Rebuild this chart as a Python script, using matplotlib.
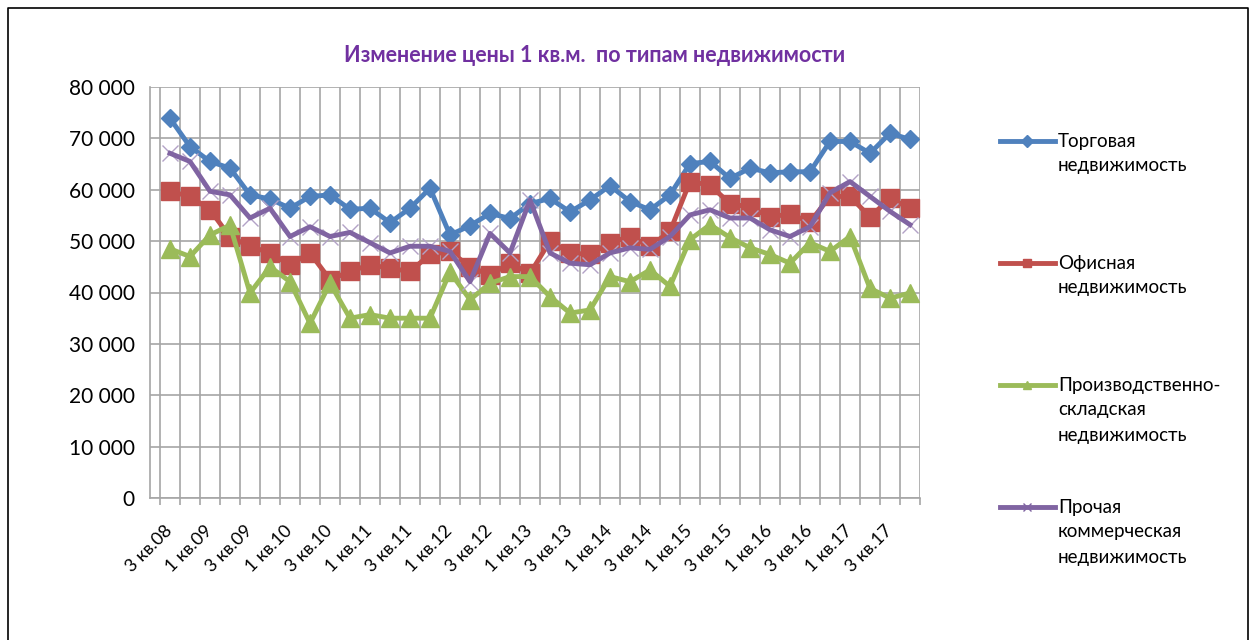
import matplotlib
matplotlib.use("Agg")
import matplotlib.pyplot as plt
from matplotlib.lines import Line2D
from matplotlib.ticker import FuncFormatter, MultipleLocator, FixedLocator

plt.rcParams['font.family'] = ['Lato', 'Open Sans', 'DejaVu Sans']

# кварталы
quarters = ['3 кв.08', '4 кв.08', '1 кв.09', '2 кв.09', '3 кв.09', '4 кв.09',
            '1 кв.10', '2 кв.10', '3 кв.10', '4 кв.10', '1 кв.11', '2 кв.11',
            '3 кв.11', '4 кв.11', '1 кв.12', '2 кв.12', '3 кв.12', '4 кв.12',
            '1 кв.13', '2 кв.13', '3 кв.13', '4 кв.13', '1 кв.14', '2 кв.14',
            '3 кв.14', '4 кв.14', '1 кв.15', '2 кв.15', '3 кв.15', '4 кв.15',
            '1 кв.16', '2 кв.16', '3 кв.16', '4 кв.16', '1 кв.17', '2 кв.17',
            '3 кв.17', '4 кв.17']

torg = [73900, 68400, 65500, 64200, 59000, 58200, 56400, 58700, 59000, 56200,
        56400, 53600, 56400, 60300, 51200, 53000, 55400, 54400, 57300, 58300,
        55700, 58000, 60800, 57700, 56100, 59000, 65100, 65500, 62200, 64200,
        63300, 63500, 63500, 69400, 69400, 67100, 71000, 69800]
ofis = [59700, 58700, 56100, 50800, 49000, 47700, 45400, 47700, 42500, 44100,
        45400, 44700, 44100, 47400, 48000, 45000, 43400, 45700, 43700, 50000,
        47700, 47400, 49700, 50900, 49000, 51900, 61600, 60900, 57300, 56600,
        54700, 55300, 53700, 58700, 58700, 54700, 58300, 56400]
prom = [48500, 47000, 51200, 53100, 39900, 45000, 42100, 34000, 41800, 35000,
        35700, 35000, 35000, 35000, 44000, 38600, 41800, 43100, 43100, 39200,
        36000, 36600, 43100, 42100, 44400, 41200, 50300, 53200, 50700, 48700,
        47400, 45700, 49700, 48000, 50900, 40800, 38900, 39900]
proch = [67100, 65500, 59700, 59000, 54500, 56400, 50900, 52800, 50900, 51700,
         49700, 47700, 49000, 49000, 48000, 42100, 51500, 47700, 58000, 47700,
         45700, 45400, 47700, 48700, 48400, 50900, 55100, 56100, 54500, 54500,
         52200, 50900, 52800, 59400, 61600, 58700, 55800, 53200]

labels = ['Торговая\nнедвижимость', 'Офисная\nнедвижимость',
          'Производственно-\nскладская\nнедвижимость',
          'Прочая\nкоммерческая\nнедвижимость']
colors = ['#4F81BD', '#C0504D', '#9BBB59', '#8064A2']

W, H = 1258, 640
fig = plt.figure(figsize=(W / 100, H / 100), dpi=100)


def fx(px):
    return px / W


def fy(py):
    return 1 - py / H


ax = fig.add_axes([fx(150), fy(498), fx(920) - fx(150), fy(87) - fy(498)])
x = list(range(len(quarters)))

ax.plot(x, torg, color=colors[0], lw=3.5, marker='D', ms=9, zorder=3)
ax.plot(x, ofis, color=colors[1], lw=3.5, marker='s', ms=13, zorder=3)
ax.plot(x, prom, color=colors[2], lw=3.5, marker='^', ms=13, zorder=3)
ax.plot(x, proch, ls='none', marker='x', ms=11, mew=1.0, color='#B3A2C7', zorder=3)
ax.plot(x, proch, color=colors[3], lw=3.5, zorder=4)

ax.set_xlim(-1, len(quarters) - 0.5)
ax.set_ylim(0, 80000)
ax.yaxis.set_major_locator(MultipleLocator(10000))
ax.yaxis.set_major_formatter(FuncFormatter(lambda v, p: f'{int(v):,}'.replace(',', ' ')))

ax.set_xticks(x[::2])
ax.set_xticklabels(quarters[::2], rotation=45, ha='right', va='center',
                   rotation_mode='anchor', fontsize=13)
ax.xaxis.set_minor_locator(FixedLocator([i - 0.5 for i in range(len(quarters) + 1)]))
ax.tick_params(axis='x', which='major', length=0, pad=22)
ax.tick_params(axis='x', which='minor', length=5, width=1.2, color='#a6a6a6')
ax.tick_params(axis='y', length=0, pad=11, labelsize=15)

ax.grid(True, which='minor', axis='x', color='#a6a6a6', lw=1.2)
ax.grid(True, which='major', axis='y', color='#a6a6a6', lw=1.2)
ax.set_axisbelow(True)
for side in ['top', 'right']:
    ax.spines[side].set_visible(False)
for side in ['left', 'bottom']:
    ax.spines[side].set_color('#a6a6a6')
    ax.spines[side].set_linewidth(1.2)

fig.text(fx(595), fy(55), 'Изменение цены 1 кв.м.  по типам недвижимости',
         ha='center', va='center', fontsize=15.5, fontweight='bold', color='#7030A0')

# легенда
markers = ['D', 's', '^', 'x']
leg_y = [141, 263, 385, 507]
for lab, c, m, y0 in zip(labels, colors, markers, leg_y):
    fig.add_artist(Line2D([fx(1000), fx(1055)], [fy(y0), fy(y0)], color=c, lw=3.5,
                          transform=fig.transFigure))
    fig.add_artist(Line2D([fx(1027)], [fy(y0)], color=c, marker=m, ms=6, mew=1.0,
                          transform=fig.transFigure))
    for j, line in enumerate(lab.split('\n')):
        fig.text(fx(1058), fy(y0 + 25 * j), line, ha='left', va='center', fontsize=13.5)

# рамка
fig.add_artist(Line2D([fx(8), fx(8), fx(1248), fx(1248)], [0, fy(8), fy(8), 0],
                      color='black', lw=1.2, transform=fig.transFigure))

fig.savefig('out.png', dpi=100)
